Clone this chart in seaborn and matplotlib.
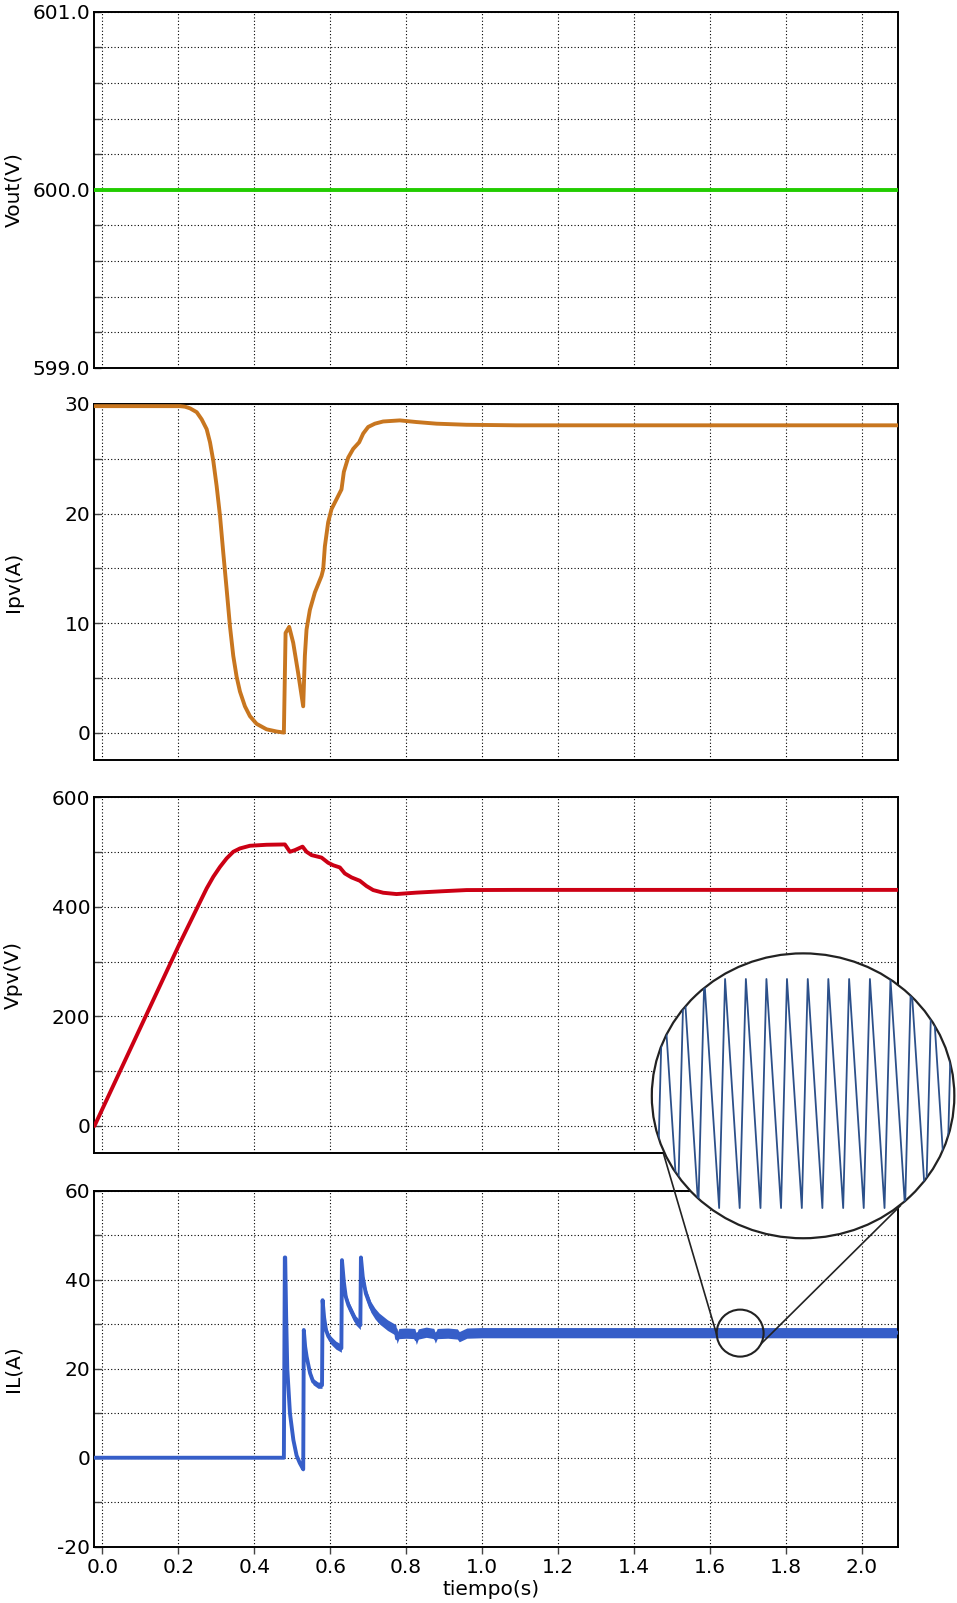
import matplotlib
matplotlib.use("Agg")
import matplotlib.pyplot as plt
from matplotlib.patches import Ellipse, ConnectionPatch
from matplotlib.ticker import MultipleLocator, FormatStrFormatter
import numpy as np
import seaborn as sns

sns.set_theme(style="white")
plt.rcParams["font.family"] = ["DejaVu Sans"]
plt.rcParams["axes.unicode_minus"] = True

# ---------------------------------------------------------------- data
T_START, T_END = -0.021, 2.095

vout_t = [-0.021, 2.095]
vout_v = [600.0, 600.0]

ipv_t = [-0.021, 0.2045, 0.2176, 0.2308, 0.2484, 0.2614, 0.2746, 0.2834, 0.2921, 0.3009,
         0.3097, 0.3184, 0.3272, 0.336, 0.3447, 0.3535, 0.3623, 0.3754, 0.3886, 0.4061,
         0.4324, 0.4588, 0.478, 0.4825, 0.492, 0.5026, 0.5158, 0.5289, 0.5333, 0.5377,
         0.5465, 0.5597, 0.5772, 0.5816, 0.586, 0.5947, 0.6035, 0.6167, 0.6298, 0.636,
         0.6474, 0.6606, 0.6764, 0.687, 0.7001, 0.7177, 0.7396, 0.7834, 0.827, 0.880,
         0.959, 1.09, 2.095]
ipv_v = [29.8, 29.8, 29.75, 29.6, 29.25, 28.6, 27.7, 26.5, 24.8, 22.5,
         19.8, 16.4, 13.1, 9.7, 7.0, 5.1, 3.75, 2.4, 1.5, 0.8,
         0.3, 0.1, 0.0, 9.1, 9.65, 8.2, 5.4, 2.4, 7.0, 9.4,
         11.2, 12.8, 14.3, 14.9, 17.0, 19.2, 20.4, 21.3, 22.2, 23.8,
         25.1, 25.9, 26.5, 27.3, 27.9, 28.2, 28.4, 28.5, 28.35, 28.2,
         28.1, 28.05, 28.05]

vpv_t = [-0.021, 0.2, 0.2571, 0.2746, 0.2921, 0.3097, 0.3272, 0.3447, 0.3623, 0.3886,
         0.4324, 0.4807, 0.4939, 0.507, 0.5272, 0.5377, 0.5509, 0.5772, 0.5947, 0.6079,
         0.6254, 0.6386, 0.6562, 0.678, 0.6957, 0.7132, 0.7396, 0.7747, 0.827, 0.897,
         0.959, 1.09, 2.095]
vpv_v = [0, 328, 409, 433.7, 455, 473, 488.5, 500.6, 506.7, 511.6,
         513.4, 514, 500.6, 503.6, 510, 500.6, 494.5, 490, 480.5, 476,
         472, 461, 453.8, 447.7, 438, 430.7, 425.8, 423.4, 426, 428.6,
         430.7, 431, 431]

# inductor current: mean value and peak-to-peak switching ripple
il_t = [-0.021, 0.478, 0.4805, 0.4815, 0.484, 0.487, 0.494, 0.503, 0.5115, 0.520,
        0.529, 0.5305, 0.534, 0.538, 0.547, 0.555, 0.568, 0.5785, 0.580, 0.584,
        0.589, 0.595, 0.602, 0.615, 0.6295, 0.631, 0.636, 0.641, 0.648, 0.654,
        0.667, 0.6795, 0.681, 0.686, 0.694, 0.707, 0.718, 0.729, 0.751, 0.773,
        0.776, 0.781, 0.80, 0.823, 0.827, 0.832, 0.853, 0.873, 0.877, 0.882,
        0.91, 0.935, 0.94, 0.96, 1.0, 1.2, 2.095]
il_mid = [0, 0, 45, 45, 32, 20, 10, 4, 0.5, -1.2,
          -2.6, 28.7, 25.0, 22.7, 19.0, 17.1, 16.3, 16.3, 35.4, 31.5,
          28.7, 27.3, 26.4, 25.3, 24.6, 44.4, 39.5, 36.2, 34.3, 33.2,
          30.9, 29.8, 45.0, 40.5, 36.9, 33.9, 32.4, 31.3, 29.8, 28.7,
          26.8, 27.9, 28.0, 27.9, 26.6, 27.8, 28.2, 27.9, 26.9, 27.9,
          28.0, 27.8, 27.2, 28.0, 28.1, 28.1, 28.1]
il_pp = [0, 0, 0, 0, 0, 0.8, 0.8, 0.8, 0.8, 0.8,
         0.8, 0.3, 1.4, 1.4, 1.4, 1.4, 1.4, 1.4, 0.3, 1.8,
         1.8, 1.8, 1.8, 1.8, 1.8, 0.3, 2.0, 2.0, 2.0, 2.0,
         2.0, 2.0, 0.3, 2.4, 2.4, 2.4, 2.4, 2.4, 2.4, 2.4,
         2.3, 2.3, 2.3, 2.3, 2.3, 2.3, 2.3, 2.3, 2.3, 2.3,
         2.3, 2.3, 2.3, 2.3, 2.3, 2.3, 2.3]

# ripple detail around t = 1.68 s (sawtooth vertices)
zoom_t = [1.6151, 1.6210, 1.6234, 1.6294, 1.6318, 1.6377, 1.6401, 1.6461,
          1.6485, 1.6544, 1.6569, 1.6628, 1.6652, 1.6711, 1.6735, 1.6795,
          1.6819, 1.6878, 1.6902, 1.6962, 1.6986, 1.7045, 1.7070, 1.7129,
          1.7153, 1.7212, 1.7236, 1.7296, 1.7320, 1.7379, 1.7403, 1.7463]
zoom_i = [29.0, 27.0, 29.0, 27.0, 29.0, 27.0, 29.0, 27.0,
          29.0, 27.0, 29.0, 27.0, 29.0, 27.0, 29.0, 27.0,
          29.0, 27.0, 29.0, 27.0, 29.0, 27.0, 29.0, 27.0,
          29.0, 27.0, 29.0, 27.0, 29.0, 27.0, 29.0, 27.0]
ZOOM_CENTER = (1.68, 28.0)

x_ticks = [0.0, 0.2, 0.4, 0.6, 0.8, 1.0, 1.2, 1.4, 1.6, 1.8, 2.0]

# ---------------------------------------------------------------- styling
C_VOUT = "#22cc00"
C_IPV = "#c8761f"
C_VPV = "#cc0014"
C_IL = "#365ec8"
C_ZOOM = "#2c508a"
EDGE = "#222222"
FS = 14.5
GRID_KW = dict(color="black", linestyle=(0, (1, 2)), linewidth=0.8)
LINE_KW = dict(sort=False, estimator=None, errorbar=None,
               solid_joinstyle="round", solid_capstyle="round")

fig = plt.figure(figsize=(9.57, 16.03), dpi=100)
L, W, H = 0.0987, 0.8393, 0.2221
bottoms = [0.7706, 0.5259, 0.2805, 0.0351]
axes = [fig.add_axes([L, b, W, H]) for b in bottoms]

panels = [
    ("Vout(V)", vout_t, vout_v, C_VOUT, (599.0, 601.0), 1.0, 0.2, "%.1f"),
    ("Ipv(A)", ipv_t, ipv_v, C_IPV, (-2.5, 30.0), 10, 5, "%d"),
    ("Vpv(V)", vpv_t, vpv_v, C_VPV, (-50, 600), 200, 100, "%d"),
    ("IL(A)", il_t, il_mid, C_IL, (-20, 60), 20, 10, "%d"),
]

for i, (ax, (label, t, v, col, ylim, major, minor, fmt)) in enumerate(zip(axes, panels)):
    if label == "IL(A)":
        lo = np.array(il_mid) - np.array(il_pp) / 2
        hi = np.array(il_mid) + np.array(il_pp) / 2
        ax.fill_between(il_t, lo, hi, color=col, linewidth=0, zorder=2)
    sns.lineplot(x=t, y=v, ax=ax, color=col, linewidth=2.8, zorder=3, **LINE_KW)
    ax.set_xlim(T_START, T_END)
    ax.set_ylim(*ylim)
    ax.set_xticks(x_ticks)
    ax.yaxis.set_major_locator(MultipleLocator(major))
    ax.yaxis.set_minor_locator(MultipleLocator(minor))
    ax.yaxis.set_major_formatter(FormatStrFormatter(fmt))
    ax.set_axisbelow(True)
    ax.grid(True, which="both", axis="y", **GRID_KW)
    ax.grid(True, which="major", axis="x", **GRID_KW)
    ax.tick_params(axis="y", which="both", left=True, direction="in", length=5,
                   width=1.0, labelsize=FS, pad=3)
    for s in ax.spines.values():
        s.set_visible(True)
        s.set_color("black")
        s.set_linewidth(1.4)
    ax.set_ylabel(label, fontsize=FS, color="black")
    ax.yaxis.set_label_coords(-0.089, 0.5)
    if i < 3:
        ax.tick_params(axis="x", bottom=False, labelbottom=False)
        ax.set_xlabel("")
    else:
        ax.xaxis.set_major_formatter(FormatStrFormatter("%.1f"))
        ax.tick_params(axis="x", bottom=True, direction="out", length=5,
                       width=1.0, labelsize=FS, pad=3)
        ax.set_xlabel("tiempo(s)", fontsize=FS, color="black")
        ax.xaxis.set_label_coords(0.494, -0.094)
    ax.tick_params(axis="both", which="both", color="#444444", labelcolor="black")

# ---------------------------------------------------------------- magnifier
ax_il = axes[3]
rx, ry = 0.0618, 5.28
ax_il.add_patch(Ellipse(ZOOM_CENTER, 2 * rx, 2 * ry, facecolor="none",
                        edgecolor=EDGE, linewidth=1.5, zorder=5))

inset = fig.add_axes([0.6803, 0.2271, 0.3177, 0.1786])
inset.set_zorder(10)
inset.patch.set_visible(False)
inset.set_axis_off()
lens = Ellipse((0.5, 0.5), 0.995, 0.995, transform=inset.transAxes,
               facecolor="white", edgecolor=EDGE, linewidth=1.6, zorder=0)
lens.set_clip_on(False)
inset.add_patch(lens)
sns.lineplot(x=zoom_t, y=zoom_i, ax=inset, color=C_ZOOM, linewidth=1.3,
             zorder=1, **LINE_KW)
inset.lines[-1].set_clip_path(lens)
inset.set_xlim(1.6186, 1.7414)
inset.set_ylim(26.73, 29.23)

# guide lines from the small circle to the lens
for ang_small, pt_big in [(184.0, (0.0405, 0.2995)), (-27.4, (0.8205, 0.1165))]:
    a = np.deg2rad(ang_small)
    p_small = (ZOOM_CENTER[0] + rx * np.cos(a), ZOOM_CENTER[1] + ry * np.sin(a))
    con = ConnectionPatch(xyA=p_small, coordsA=ax_il.transData,
                          xyB=pt_big, coordsB=inset.transAxes,
                          color=EDGE, linewidth=1.2, zorder=4)
    fig.add_artist(con)

fig.savefig("out.png", dpi=100)
